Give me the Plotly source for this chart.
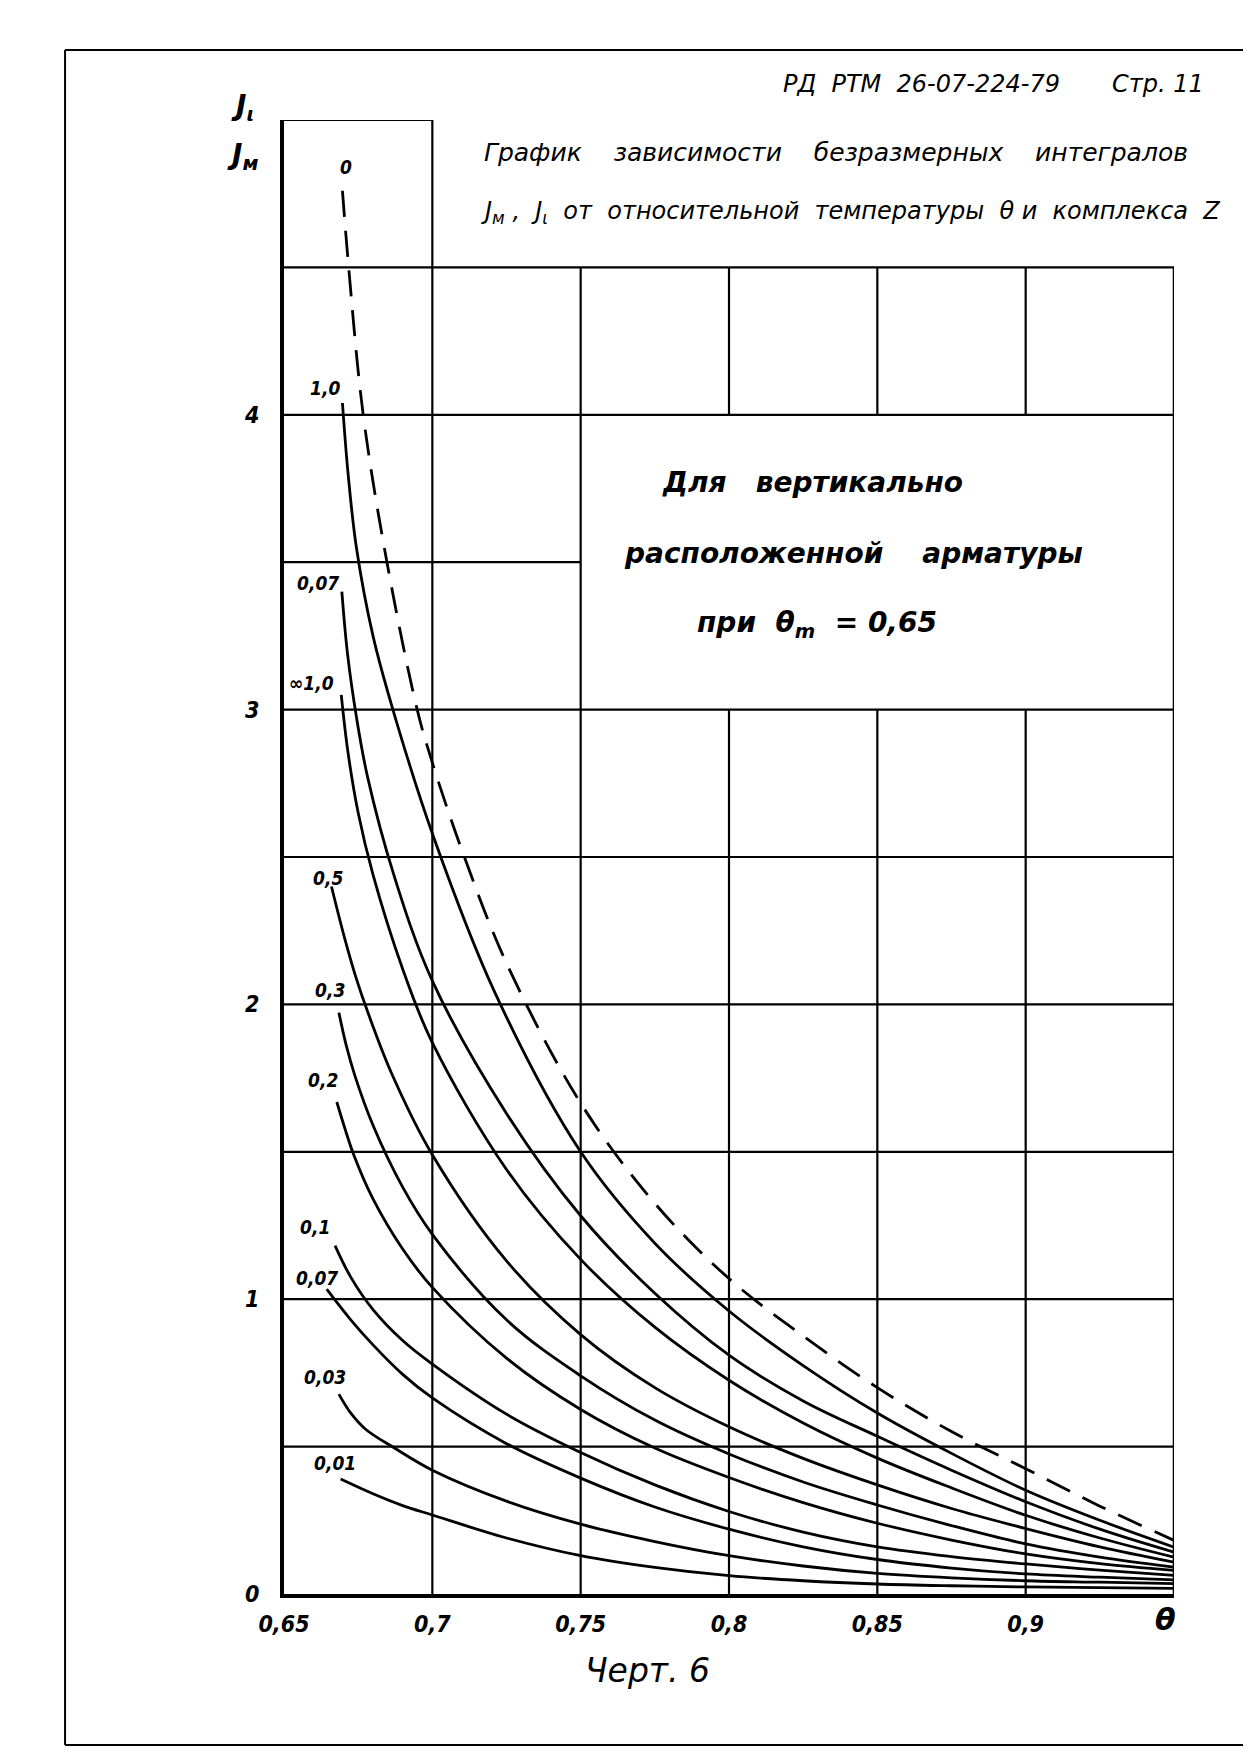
import plotly.graph_objects as go

# ---------------- data ----------------
curve_labels = ["0", "1,0", "0,07", "∞1,0", "0,5", "0,3", "0,2", "0,1", "0,07", "0,03", "0,01"]

x_z0 = [0.6697, 0.6718, 0.6767, 0.6847, 0.6949, 0.700, 0.7108, 0.725, 0.75, 0.775, 0.80,
        0.825, 0.85, 0.875, 0.90, 0.925, 0.95]
y_z0 = [4.76, 4.50, 4.00, 3.50, 3.00, 2.82, 2.50, 2.14, 1.665, 1.325, 1.07,
        0.875, 0.70, 0.551, 0.425, 0.298, 0.182]

x_z10a = [0.6697, 0.6716, 0.6744, 0.680, 0.687, 0.70, 0.7211, 0.75, 0.775, 0.80,
          0.825, 0.85, 0.875, 0.90, 0.925, 0.95]
y_z10a = [4.04, 3.80, 3.55, 3.25, 2.99, 2.58, 2.04, 1.50, 1.19, 0.96,
          0.775, 0.614, 0.477, 0.352, 0.25, 0.159]

x_z007a = [0.6695, 0.6714, 0.6745, 0.6782, 0.687, 0.70, 0.725, 0.75, 0.775, 0.80,
           0.825, 0.85, 0.875, 0.90, 0.925, 0.95]
y_z007a = [3.40, 3.19, 2.97, 2.77, 2.44, 2.08, 1.63, 1.283, 1.02, 0.81,
           0.655, 0.535, 0.42, 0.313, 0.22, 0.142]

x_z10b = [0.6693, 0.6715, 0.675, 0.680, 0.690, 0.700, 0.725, 0.75, 0.775, 0.80,
          0.825, 0.85, 0.875, 0.90, 0.925, 0.95]
y_z10b = [3.05, 2.86, 2.65, 2.44, 2.12, 1.87, 1.44, 1.135, 0.905, 0.725,
          0.58, 0.461, 0.36, 0.267, 0.19, 0.125]

x_z05 = [0.6660, 0.6703, 0.6743, 0.6782, 0.6861, 0.700, 0.725, 0.75, 0.775, 0.80,
         0.825, 0.85, 0.875, 0.90, 0.925, 0.95]
y_z05 = [2.40, 2.23, 2.09, 1.975, 1.77, 1.49, 1.13, 0.88, 0.70, 0.567,
         0.46, 0.37, 0.29, 0.222, 0.16, 0.108]

x_z03 = [0.6685, 0.671, 0.674, 0.680, 0.690, 0.700, 0.725, 0.75, 0.775, 0.80,
         0.825, 0.85, 0.875, 0.90, 0.925, 0.95]
y_z03 = [1.972, 1.86, 1.755, 1.59, 1.38, 1.22, 0.93, 0.74, 0.59, 0.475,
         0.38, 0.302, 0.232, 0.17, 0.125, 0.091]

x_z02 = [0.6678, 0.6705, 0.6735, 0.680, 0.690, 0.700, 0.725, 0.75, 0.775, 0.80,
         0.825, 0.85, 0.875, 0.90, 0.925, 0.95]
y_z02 = [1.669, 1.58, 1.49, 1.34, 1.17, 1.04, 0.80, 0.626, 0.495, 0.395,
         0.31, 0.24, 0.183, 0.136, 0.103, 0.08]

x_z01 = [0.6672, 0.6725, 0.680, 0.690, 0.700, 0.725, 0.75, 0.775, 0.80,
         0.825, 0.85, 0.875, 0.90, 0.925, 0.95]
y_z01 = [1.182, 1.075, 0.965, 0.86, 0.78, 0.61, 0.48, 0.37, 0.28,
         0.21, 0.16, 0.127, 0.102, 0.081, 0.063]

x_z007b = [0.6644, 0.6725, 0.680, 0.690, 0.700, 0.725, 0.75, 0.775, 0.80,
           0.825, 0.85, 0.875, 0.90, 0.925, 0.95]
y_z007b = [1.034, 0.93, 0.845, 0.745, 0.665, 0.51, 0.393, 0.295, 0.22,
           0.16, 0.117, 0.088, 0.068, 0.057, 0.048]

x_z003 = [0.6685, 0.6724, 0.6775, 0.6871, 0.700, 0.725, 0.75, 0.775, 0.80,
          0.825, 0.85, 0.875, 0.90, 0.925, 0.95]
y_z003 = [0.678, 0.615, 0.559, 0.496, 0.42, 0.315, 0.237, 0.178, 0.13,
          0.095, 0.07, 0.055, 0.045, 0.04, 0.035]

x_z001 = [0.6691, 0.680, 0.690, 0.700, 0.725, 0.75, 0.775, 0.80, 0.825, 0.85, 0.875, 0.90, 0.95]
y_z001 = [0.39, 0.34, 0.30, 0.268, 0.19, 0.13, 0.09, 0.062, 0.045, 0.034, 0.028, 0.024, 0.019]

curves_x = [x_z0, x_z10a, x_z007a, x_z10b, x_z05, x_z03, x_z02, x_z01, x_z007b, x_z003, x_z001]
curves_y = [y_z0, y_z10a, y_z007a, y_z10b, y_z05, y_z03, y_z02, y_z01, y_z007b, y_z003, y_z001]

# label anchor positions (data coords)
label_x = [0.6708, 0.6638, 0.6615, 0.6593, 0.6648, 0.6655, 0.6631, 0.6604, 0.6611, 0.6638, 0.6672]
label_y = [4.84, 4.09, 3.43, 3.09, 2.43, 2.05, 1.745, 1.246, 1.073, 0.737, 0.445]

x_tickvals = [0.65, 0.70, 0.75, 0.80, 0.85, 0.90]
x_ticktext = ["0,65", "0,7", "0,75", "0,8", "0,85", "0,9"]
y_tickvals = [0, 1, 2, 3, 4]
y_ticktext = ["0", "1", "2", "3", "4"]

# ---------------- figure ----------------
FONT = "DejaVu Sans"
FONT_N = "Liberation Sans Narrow, DejaVu Sans Condensed, DejaVu Sans"
fig = go.Figure()

for i, (xs, ys) in enumerate(zip(curves_x, curves_y)):
    fig.add_trace(go.Scatter(
        x=xs, y=ys, mode="lines",
        line=dict(color="black", width=2.8, shape="spline", smoothing=1.0,
                  dash="26px,14px" if i == 0 else "solid"),
        hoverinfo="skip", showlegend=False))

shapes = []
def seg(x0, y0, x1, y1, w=2.2):
    shapes.append(dict(type="line", xref="x", yref="y", x0=x0, y0=y0, x1=x1, y1=y1,
                       line=dict(color="black", width=w), layer="below"))

# horizontal grid lines
for yv in [0.5, 1.0, 1.5, 2.0, 2.5, 3.0, 4.0, 4.5]:
    seg(0.65, yv, 0.95, yv)
seg(0.65, 3.5, 0.75, 3.5)
seg(0.65, 5.0, 0.70, 5.0)
# vertical grid lines
seg(0.70, 0, 0.70, 5.0)
seg(0.75, 0, 0.75, 4.5)
for xv in [0.80, 0.85, 0.90]:
    seg(xv, 0, xv, 3.0)
    seg(xv, 4.0, xv, 4.5)
seg(0.95, 0, 0.95, 4.5, w=2.6)

# page frame (paper coords)
def pseg(x0, y0, x1, y1, w=2):
    shapes.append(dict(type="line", xref="paper", yref="paper", x0=x0, y0=y0, x1=x1, y1=y1,
                       line=dict(color="black", width=w)))
pseg(-0.246, 1.0475, 1.081, 1.0475)
pseg(-0.246, -0.1024, 1.081, -0.1024)
pseg(-0.246, -0.1024, -0.246, 1.0475)
pseg(1.081, 0.388, 1.081, 1.0475)

annotations = []
def ann(text, x, y, size, xref="paper", yref="paper", bold=False, italic=True,
        xanchor="center", family=FONT):
    annotations.append(dict(text=text, x=x, y=y, xref=xref, yref=yref, showarrow=False,
                            xanchor=xanchor, yanchor="middle",
                            font=dict(family=family, size=size, color="black",
                                      style="italic" if italic else "normal",
                                      weight="bold" if bold else "normal")))

for lab, lx, ly in zip(curve_labels, label_x, label_y):
    ann(lab, lx, ly, 19, xref="x", yref="y", bold=True, family=FONT_N)

ann("РД  РТМ  26-07-224-79", 0.716, 1.0244, 24)
ann("Стр. 11", 0.9825, 1.0244, 24)
ann("График    зависимости    безразмерных    интегралов", 0.62, 0.978, 25)
ann("J<sub>м</sub> ,  J<sub>ι</sub>  от  относительной  температуры  θ и  комплекса  Z", 0.636, 0.937, 24)
ann("J<sub>ι</sub>", -0.047, 1.0088, 28, bold=True)
ann("J<sub>м</sub>", -0.047, 0.975, 28, bold=True)
ann("Для   вертикально", 0.594, 0.754, 28, bold=True)
ann("расположенной    арматуры", 0.640, 0.7056, 28, bold=True)
ann("при  θ<sub>m</sub>  = 0,65", 0.599, 0.658, 28, bold=True)
ann("Черт. 6", 0.408, -0.0522, 33)
ann("θ", 0.947, -0.017, 30, xref="x", bold=True)

fig.update_layout(
    width=1243, height=1754,
    margin=dict(l=276, r=77, t=112, b=168),
    paper_bgcolor="white", plot_bgcolor="white",
    showlegend=False,
    shapes=shapes, annotations=annotations,
    xaxis=dict(range=[0.65, 0.95], showgrid=False, zeroline=False,
               showline=True, linewidth=4, linecolor="black",
               tickvals=x_tickvals, ticktext=x_ticktext, ticks="",
               ticklabelstandoff=6,
               tickfont=dict(family=FONT_N, size=23, color="black", style="italic", weight="bold")),
    yaxis=dict(range=[0, 5], showgrid=False, zeroline=False,
               showline=True, linewidth=4, linecolor="black",
               tickvals=y_tickvals, ticktext=y_ticktext, ticks="",
               ticklabelstandoff=16,
               tickfont=dict(family=FONT_N, size=23, color="black", style="italic", weight="bold")),
)

fig.write_html("out.html")
